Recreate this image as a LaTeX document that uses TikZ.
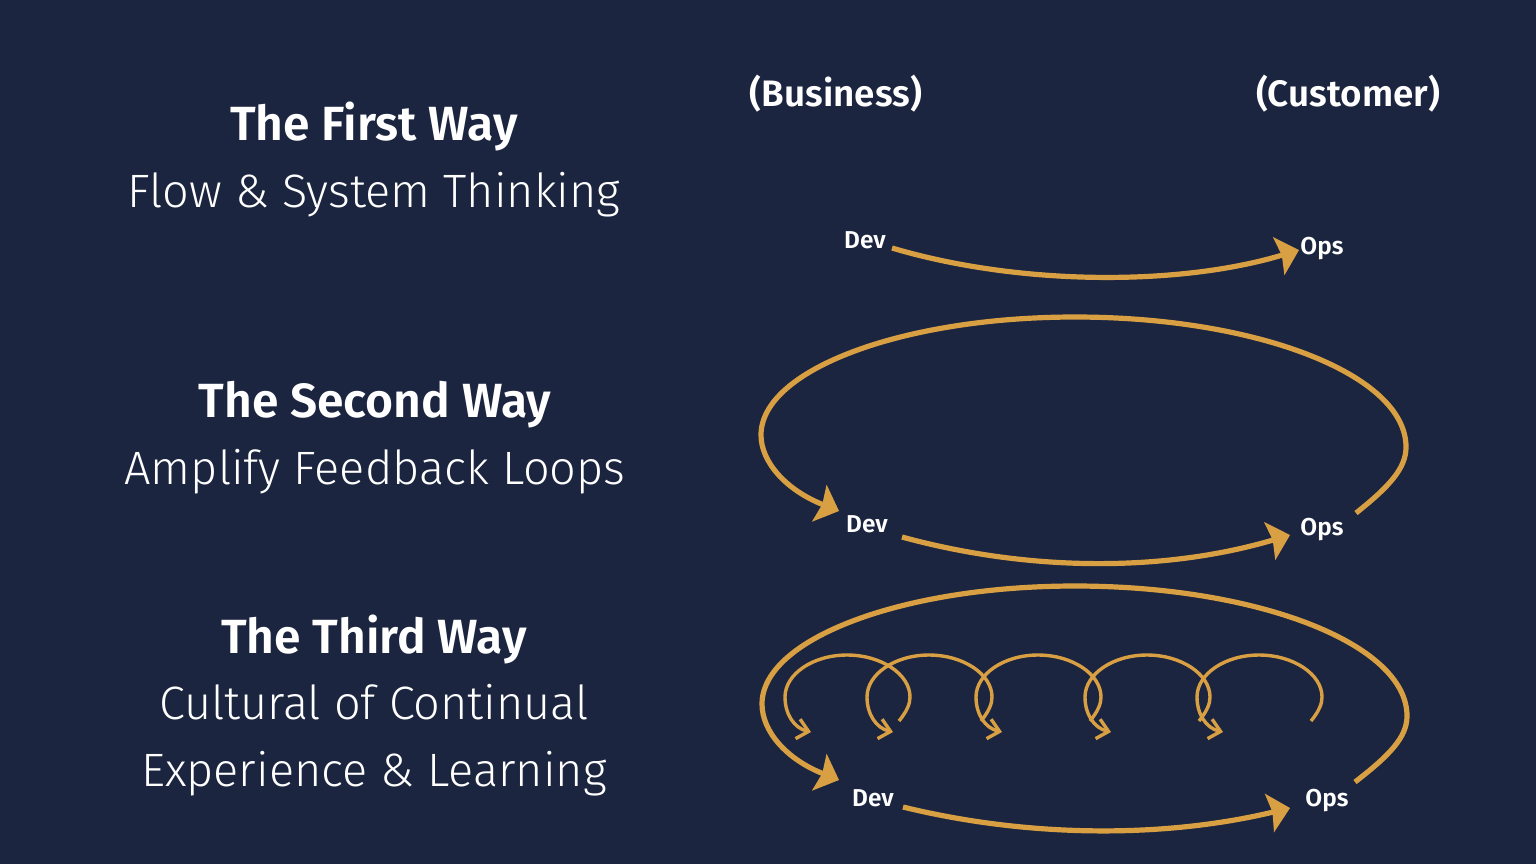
\documentclass[tikz,border=0pt]{standalone}
\usepackage{fontspec}
\setmainfont{Fira Sans}[UprightFont={* Light}, BoldFont={* SemiBold}]
\usetikzlibrary{arrows.meta}
\definecolor{bg}{RGB}{28,37,64}
\definecolor{gold}{RGB}{217,160,67}
\begin{document}
\begin{tikzpicture}[x=0.5pt,y=-0.5pt,
  heading/.style={text=white, font=\fontsize{24}{28}\selectfont\bfseries, anchor=base, inner sep=0},
  subtitle/.style={text=white, font=\fontsize{23.4}{28}\selectfont, anchor=base, inner sep=0},
  role/.style={text=white, font=\fontsize{18.4}{21}\selectfont\bfseries, anchor=base, inner sep=0},
  lbl/.style={text=white, font=\fontsize{12.2}{14}\selectfont\bfseries, anchor=base, inner sep=0},
  flow/.style={draw=gold, line width=2.6pt, -{Stealth[length=10.5pt,width=19.5pt,inset=1.5pt]}},
  mini/.style={draw=gold, line width=1.7pt, -{Straight Barb[length=5.5pt,width=10pt]}}]

\fill[bg] (0,0) rectangle (1536,864);
\useasboundingbox (0,0) rectangle (1536,864);

% left column
\node[heading]  (w1)  at (374,140) {The First Way};
\node[subtitle] (w1s) at (374,207) {Flow \& System Thinking};
\node[heading]  (w2)  at (375,417) {The Second Way};
\node[subtitle] (w2s) at (375,484) {Amplify Feedback Loops};
\node[heading]  (w3)  at (374,653) {The Third Way};
\node[subtitle] (w3a) at (374,719) {Cultural of Continual};
\node[subtitle] (w3b) at (374,786) {Experience \& Learning};

% roles
\node[role] (bus)  at (836,106) {(Business)};
\node[role] (cust) at (1348,106) {(Customer)};

% dev / ops labels
\node[lbl] (dev1) at (865,248) {Dev};
\node[lbl] (ops1) at (1322,254) {Ops};
\node[lbl] (dev2) at (867,532) {Dev};
\node[lbl] (ops2) at (1322,535) {Ops};
\node[lbl] (dev3) at (873,806) {Dev};
\node[lbl] (ops3) at (1327,806) {Ops};

% endpoints
\coordinate (a1s) at (892,248);
\coordinate (a1e) at (1299,250);
\coordinate (a2s) at (902,537);
\coordinate (a2e) at (1290,535);
\coordinate (b2s) at (1356,513);
\coordinate (b2e) at (839,511);
\coordinate (a3s) at (903,807);
\coordinate (a3e) at (1290,808);
\coordinate (b3s) at (1355,782);
\coordinate (b3e) at (839,780);

% First Way
\draw[flow] (a1s) .. controls (1020,286) and (1180,286) .. (a1e);

% Second Way
\draw[flow] (a2s) .. controls (1030,572) and (1165,572) .. (a2e);
\draw[flow] (b2s) .. controls (1390,486) and (1406,468) .. (1406,447)
  .. controls (1406,375) and (1258,317) .. (1075,317)
  .. controls (902,317) and (761,370) .. (761,435)
  .. controls (761,462) and (786,490) .. (b2e);

% Third Way
\draw[flow] (a3s) .. controls (1030,838) and (1165,838) .. (a3e);
\draw[flow] (b3s) .. controls (1390,755) and (1407,737) .. (1407,716)
  .. controls (1407,644) and (1258,586) .. (1075,586)
  .. controls (902,586) and (762,639) .. (762,704)
  .. controls (762,731) and (786,759) .. (b3e);

% small feedback loops
\foreach \c in {847,929,1038,1147,1259}{
  \draw[mini] ({\c+52},721) .. controls ({\c+60},711) and ({\c+63},704) .. ({\c+63},697)
    .. controls ({\c+63},674) and ({\c+34},655) .. (\c,655)
    .. controls ({\c-34},655) and ({\c-62},674) .. ({\c-62},697)
    .. controls ({\c-62},714) and ({\c-53},728) .. ({\c-36},732);
}
\end{tikzpicture}
\end{document}
